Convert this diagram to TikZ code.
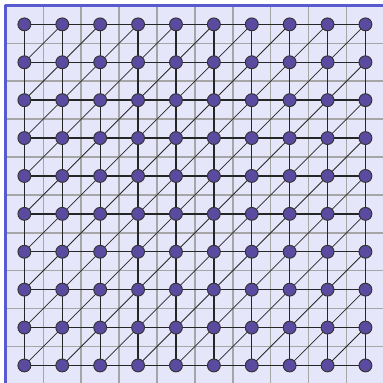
\documentclass[tikz,border=0pt]{standalone}
\definecolor{lavbg}{HTML}{E6E6FA}
\definecolor{framebl}{HTML}{5A5AD0}
\definecolor{vtxfill}{HTML}{5B4BA0}
\begin{document}
\begin{tikzpicture}[line join=round,line cap=round,
	vertex/.style={circle,draw=black!80,fill=vtxfill,line width=0.7pt,inner sep=0pt,minimum size=0.34cm},
	edge/.style={black!85,line width=1pt},
	diagedge/.style={black!85,line width=0.6pt}]
	\useasboundingbox (-0.643,-0.463) rectangle (9.463,9.643);
	% background and grid
	\fill[lavbg] (-0.5,-0.5) rectangle (9.5,9.5);
	\draw[gray!70,line width=1.1pt,line cap=butt,shift={(-0.5,-0.5)}] (0,0) grid (10,10);
	\draw[framebl,line width=2pt] (-0.5,-0.5) rectangle (9.5,9.5);
	% vertices
	\foreach \i in {0,...,9}
		\foreach \j in {0,...,9}
			\path (\i,\j) coordinate (p-\i-\j);
	% edges
	\foreach \i in {0,...,8}
		\foreach \j in {0,...,9}{
			\pgfmathtruncatemacro{\ii}{\i+1}
			\draw[edge] (p-\i-\j) -- (p-\ii-\j);
			\draw[edge] (p-\j-\i) -- (p-\j-\ii);
		}
	\foreach \i in {0,...,8}
		\foreach \j in {0,...,8}{
			\pgfmathtruncatemacro{\ii}{\i+1}
			\pgfmathtruncatemacro{\jj}{\j+1}
			\draw[diagedge] (p-\i-\j) -- (p-\ii-\jj);
		}
	\foreach \i in {0,...,9}
		\foreach \j in {0,...,9}
			\node[vertex] (v-\i-\j) at (p-\i-\j) {};
\end{tikzpicture}
\end{document}
